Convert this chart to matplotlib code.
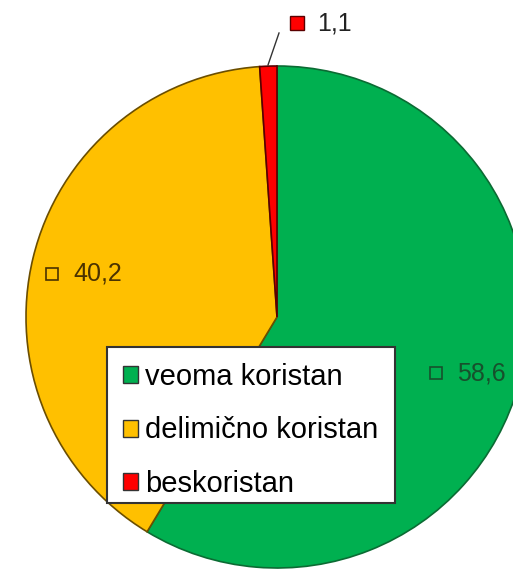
import matplotlib.pyplot as plt
from matplotlib.patches import Patch, Rectangle

plt.rcParams['font.family'] = ['Liberation Sans', 'DejaVu Sans']

categories = ['veoma koristan', 'delimično koristan', 'beskoristan']
values = [58.6, 40.2, 1.1]
value_labels = ['58,6', '40,2', '1,1']
colors = ['#00B050', '#FFC000', '#FF0000']
edge_colors = ['#0B6B33', '#6B4E00', '#5A0000']
label_colors = ['#17502C', '#4A3200', '#222222']

W, H = 513, 571
fig = plt.figure(figsize=(W / 100, H / 100), dpi=100)
ax = fig.add_axes([0, 0, 1, 1])

# pie centre / radius in pixel coords (y measured from bottom)
cx, cy, r = 277, H - 317, 251
wedges, _ = ax.pie(values, colors=colors, startangle=90, counterclock=False,
                   center=(cx, cy), radius=r, frame=True,
                   wedgeprops=dict(linewidth=1.2))
for w, ec in zip(wedges, edge_colors):
    w.set_edgecolor(ec)
ax.set_xlim(0, W)
ax.set_ylim(0, H)
ax.set_aspect('equal')
ax.axis('off')

# data labels
lab_pos = [(436, H - 373), (52, H - 274)]
for (x, y), txt, col in zip(lab_pos, value_labels[:2], label_colors[:2]):
    ax.plot(x, y, marker='s', markersize=8, markerfacecolor='none',
            markeredgecolor=col, markeredgewidth=1.2)
    ax.text(x + 21, y, txt, fontsize=18, color=col, va='center', ha='left')

# small slice label with leader line
ax.plot([268, 279], [H - 65, H - 33], color='#333333', lw=1)
ax.plot(297, H - 23, marker='s', markersize=10, markerfacecolor=colors[2],
        markeredgecolor='#5A0000', markeredgewidth=1)
ax.text(317, H - 23, value_labels[2], fontsize=18, color=label_colors[2],
        va='center', ha='left')

# legend box drawn separately so padding matches
ax.add_patch(Rectangle((107, H - 503), 288, 156, facecolor='white',
                       edgecolor='#333333', linewidth=1.5, zorder=4))
handles = [Patch(facecolor=c, edgecolor='#333333', linewidth=1) for c in colors]
leg = ax.legend(handles, categories, loc='upper left',
                bbox_to_anchor=(123 / W, 1 - 363 / H), bbox_transform=fig.transFigure,
                fontsize=21, frameon=False,
                handlelength=0.52, handleheight=0.52,
                handletextpad=0.22, labelspacing=0.87, borderpad=0,
                borderaxespad=0)
leg.set_zorder(5)

fig.savefig('out.png', dpi=100)
